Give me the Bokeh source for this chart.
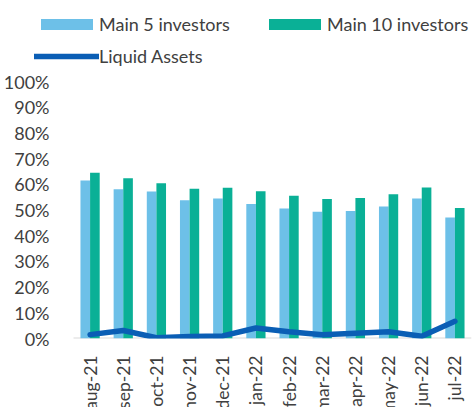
from math import pi
from bokeh.plotting import figure
from bokeh.models import (ColumnDataSource, Range1d, FixedTicker,
                          NumeralTickFormatter, Legend, LegendItem)
from bokeh.transform import dodge
from bokeh.embed import file_html
from bokeh.resources import INLINE

months = ["aug-21", "sep-21", "oct-21", "nov-21", "dec-21", "jan-22",
          "feb-22", "mar-22", "apr-22", "may-22", "jun-22", "jul-22"]
main5 = [0.615, 0.581, 0.572, 0.538, 0.545, 0.523, 0.506, 0.493, 0.496, 0.514, 0.545, 0.471]
main10 = [0.645, 0.624, 0.604, 0.583, 0.587, 0.573, 0.555, 0.543, 0.547, 0.561, 0.588, 0.508]
liquid = [0.015, 0.031, 0.003, 0.008, 0.010, 0.041, 0.026, 0.015, 0.020, 0.026, 0.009, 0.067]
y_ticks = [0.0, 0.1, 0.2, 0.3, 0.4, 0.5, 0.6, 0.7, 0.8, 0.9, 1.0]

C5 = "#6DC0E8"
C10 = "#0AB096"
CL = "#0A5EB5"
TXT = "#404040"
FONT = "Lato"

# layout (pixels)
FRAME_LEFT = 33
AXIS_START = 72
PLOT_W = 398
TOP_GAP = 81
PLOT_H = 257
n = len(months)
cat_px = PLOT_W / n
x_start = -0.5 - (AXIS_START - FRAME_LEFT) / cat_px
y_end = 1.0 + TOP_GAP / PLOT_H

idx = list(range(n))
src = ColumnDataSource(dict(i=idx, a=main5, b=main10, l=liquid))

p = figure(x_range=Range1d(x_start, n - 0.5),
           y_range=Range1d(0, y_end),
           frame_width=PLOT_W + AXIS_START - FRAME_LEFT, frame_height=TOP_GAP + PLOT_H,
           min_border_left=FRAME_LEFT, min_border_right=3,
           min_border_top=0, min_border_bottom=69,
           output_backend="svg", toolbar_location=None)

# baseline (category axis line)
p.segment(x0=[-0.5], x1=[n - 0.5], y0=[0], y1=[0], line_color="#D9D9D9", line_width=2)

r5 = p.vbar(x=dodge("i", -0.145), top="a", width=0.29,
            source=src, color=C5, line_color=None)
r10 = p.vbar(x=dodge("i", 0.145), top="b", width=0.29,
             source=src, color=C10, line_color=None)
rl = p.line(x="i", y="l", source=src, line_color=CL, line_width=5.5,
            line_join="round", line_cap="round")

p.xgrid.visible = False
p.ygrid.visible = False
p.outline_line_color = None

p.yaxis.ticker = FixedTicker(ticks=y_ticks)
p.yaxis.formatter = NumeralTickFormatter(format="0%")
p.yaxis.axis_line_color = None
p.yaxis.major_tick_line_color = None
p.yaxis.minor_tick_line_color = None
p.yaxis.major_label_standoff = -(54 - FRAME_LEFT)
p.yaxis.major_label_text_font = FONT
p.yaxis.major_label_text_font_size = "18px"
p.yaxis.major_label_text_color = TXT

p.xaxis.ticker = FixedTicker(ticks=idx)
p.xaxis.major_label_overrides = {i: m for i, m in zip(idx, months)}
p.xaxis.axis_line_color = None
p.xaxis.major_tick_line_color = None
p.xaxis.minor_tick_line_color = None
p.xaxis.major_label_orientation = pi / 2
p.xaxis.major_label_standoff = 11
p.xaxis.major_label_text_font = FONT
p.xaxis.major_label_text_font_size = "17.5px"
p.xaxis.major_label_text_color = TXT

# column-major fill: col 1 = Main 5 / Liquid Assets, col 2 = Main 10
legend = Legend(items=[LegendItem(label="Main 5 investors", renderers=[r5]),
                       LegendItem(label="Liquid Assets", renderers=[rl]),
                       LegendItem(label="Main 10 investors", renderers=[r10])],
                ncols=2, location=(0, TOP_GAP + PLOT_H - 15 - 52),
                glyph_width=65, glyph_height=14, spacing=10,
                label_standoff=0, label_width=153,
                label_text_font=FONT, label_text_font_size="18px",
                label_text_color=TXT, padding=0, margin=0,
                background_fill_alpha=0, border_line_color=None)
p.add_layout(legend)

open("out.html", "w").write(file_html(p, INLINE))
